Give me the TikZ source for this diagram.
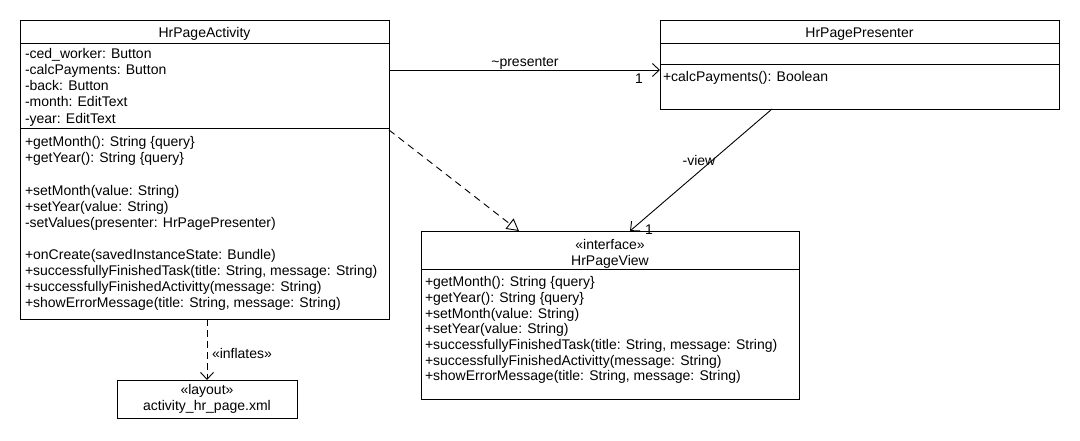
\documentclass[tikz,border=0pt]{standalone}
\usepackage{fontspec}
\setmainfont{Liberation Sans}
\usetikzlibrary{arrows.meta}
\begin{document}
\begin{tikzpicture}[x=1pt,y=-1pt,
  every node/.style={font=\fontsize{14}{16}\selectfont, inner sep=0pt, outer sep=0pt},
  box/.style={draw, line width=0.9pt, rectangle, anchor=north west},
  txt/.style={anchor=base west},
  ctr/.style={anchor=base},
  sep/.style={line width=0.9pt},
  assoc/.style={line width=0.9pt, -{Straight Barb[length=7pt, width=13pt, line width=0.9pt]}},
  realize/.style={line width=0.9pt, dash pattern=on 7pt off 5pt, -{Triangle[open, length=12pt, width=13pt, line width=0.9pt]}},
  depend/.style={line width=0.9pt, dash pattern=on 7pt off 4pt, -{Straight Barb[length=7pt, width=13pt, line width=0.9pt]}}
]
\useasboundingbox (0,0) rectangle (1080,440);
\fill[white] (0,0) rectangle (1080,440);

% HrPageActivity
\node[box, minimum width=369pt, minimum height=299pt] (act) at (20,20) {};
\draw[sep] ([yshift=-23pt]act.north west) -- ([yshift=-23pt]act.north east);
\draw[sep] ([yshift=-108pt]act.north west) -- ([yshift=-108pt]act.north east);
\node[ctr] (actT) at (204.5,37.5) {HrPageActivity};
\node[txt] (a1) at (25,58) {-ced\_worker: Button};
\node[txt] (a2) at (25,74) {-calcPayments: Button};
\node[txt] (a3) at (25,90.5) {-back: Button};
\node[txt] (a4) at (25,106.5) {-month: EditText};
\node[txt] (a5) at (25,123) {-year: EditText};
\node[txt] (m1) at (25,146) {+getMonth(): String \{query\}};
\node[txt] (m2) at (25,162) {+getYear(): String \{query\}};
\node[txt] (m3) at (25,195) {+setMonth(value: String)};
\node[txt] (m4) at (25,211) {+setYear(value: String)};
\node[txt] (m5) at (25,227) {-setValues(presenter: HrPagePresenter)};
\node[txt] (m6) at (25,259.5) {+onCreate(savedInstanceState: Bundle)};
\node[txt] (m7) at (25,275.5) {+successfullyFinishedTask(title: String, message: String)};
\node[txt] (m8) at (25,291.5) {+successfullyFinishedActivitty(message: String)};
\node[txt] (m9) at (25,307.5) {+showErrorMessage(title: String, message: String)};

% HrPagePresenter
\node[box, minimum width=399pt, minimum height=89pt] (pres) at (660,20) {};
\draw[sep] ([yshift=-23pt]pres.north west) -- ([yshift=-23pt]pres.north east);
\draw[sep] ([yshift=-44pt]pres.north west) -- ([yshift=-44pt]pres.north east);
\node[ctr] (presT) at (859.5,37.5) {HrPagePresenter};
\node[txt] (p1) at (663,81) {+calcPayments(): Boolean};

% HrPageView
\node[box, minimum width=378pt, minimum height=168pt] (view) at (421,231) {};
\draw[sep] ([yshift=-38pt]view.north west) -- ([yshift=-38pt]view.north east);
\node[ctr] (viewS) at (610,249) {«interface»};
\node[ctr] (viewT) at (610,265) {HrPageView};
\node[txt] (v1) at (425,286.5) {+getMonth(): String \{query\}};
\node[txt] (v2) at (425,302.2) {+getYear(): String \{query\}};
\node[txt] (v3) at (425,318) {+setMonth(value: String)};
\node[txt] (v4) at (425,333.7) {+setYear(value: String)};
\node[txt] (v5) at (425,349.4) {+successfullyFinishedTask(title: String, message: String)};
\node[txt] (v6) at (425,365) {+successfullyFinishedActivitty(message: String)};
\node[txt] (v7) at (425,380.7) {+showErrorMessage(title: String, message: String)};

% layout
\node[box, minimum width=180pt, minimum height=38pt] (lay) at (117,380) {};
\node[ctr] (layS) at (207,394) {«layout»};
\node[ctr] (layT) at (207,410) {activity\_hr\_page.xml};

% connectors
\draw[assoc] ([yshift=-50pt]act.north east) -- ([yshift=-50pt]pres.north west);
\node[ctr] (lpres) at (525,66) {\textasciitilde presenter};
\node[ctr] (lone1) at (639,83.5) {1};

\draw[assoc] ([xshift=112pt]pres.south west) -- ([xshift=209pt]view.north west);
\node[ctr] (lview) at (699,165) {-view};
\node[ctr] (lone2) at (649,234) {1};

\draw[realize] ([yshift=-110pt]act.north east) -- ([xshift=98pt]view.north west);

\draw[depend] (lay.north |- act.south) -- (lay.north);
\node[ctr] (linf) at (242,358) {«inflates»};
\end{tikzpicture}
\end{document}
